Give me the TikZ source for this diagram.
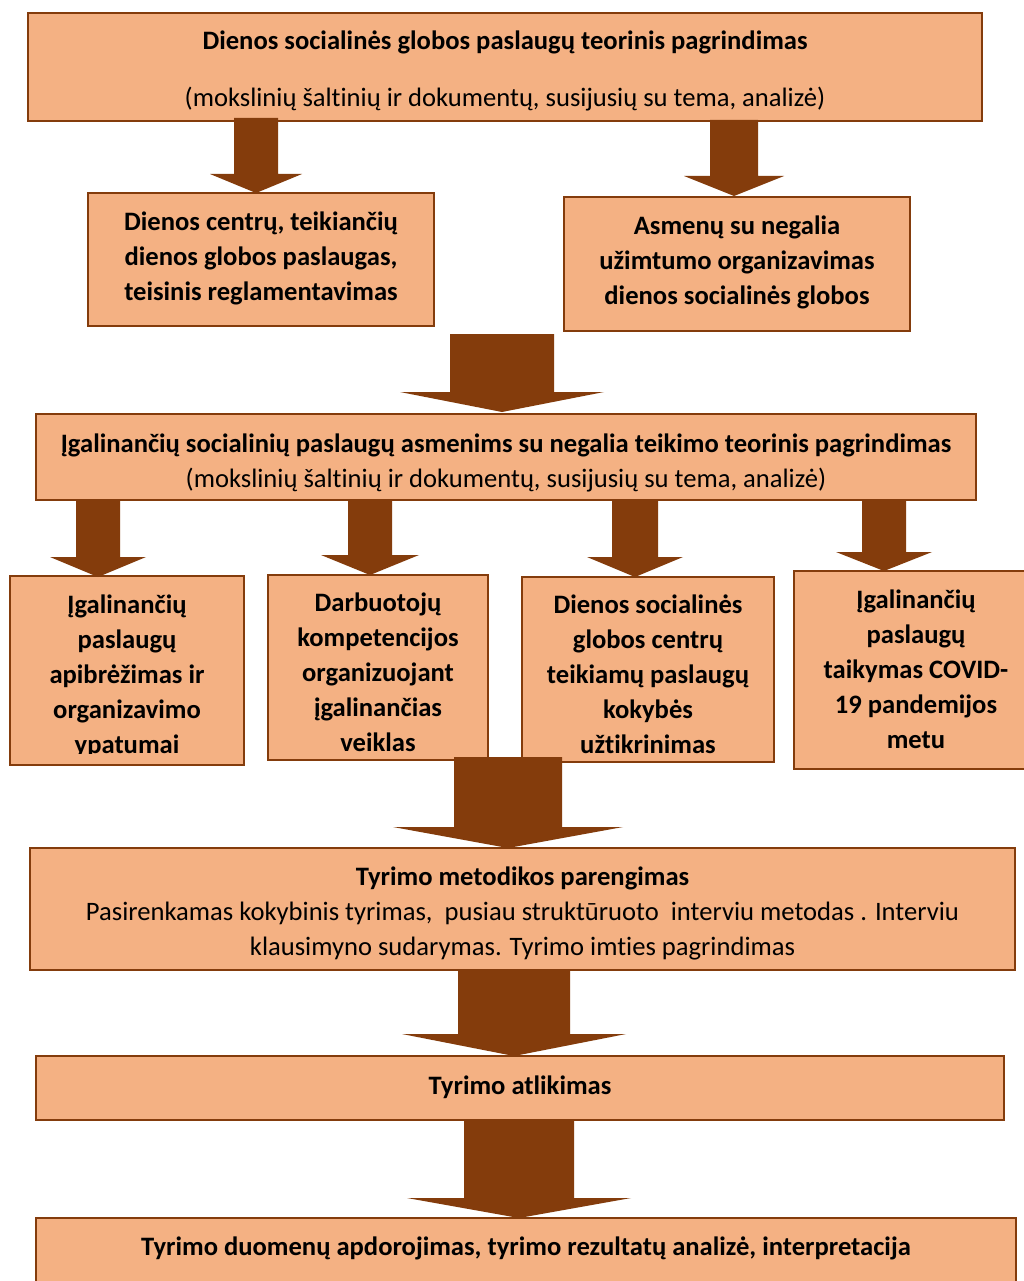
\documentclass[tikz,border=0pt]{standalone}
\usepackage{fontspec}
\setmainfont[RawFeature={-liga;-clig;-calt}]{Carlito}
\definecolor{boxfill}{HTML}{F4B183}
\definecolor{arrowc}{HTML}{843C0C}
\tikzset{
  box/.style={draw=arrowc, fill=boxfill, line width=2pt, inner sep=0pt},
  txt/.style={inner sep=0pt, align=center, font=\fontsize{26.6}{35}\selectfont},
  btxt/.style={txt, font=\fontsize{26.6}{35}\selectfont\bfseries},
  blk/.style={fill=arrowc}
}
% x, shaft half width, top y, head base y, head half width, tip y
\newcommand\blkarrow[6]{\fill[blk] (#1-#2,#3) -- (#1+#2,#3) -- (#1+#2,#4) -- (#1+#5,#4) -- (#1,#6) -- (#1-#5,#4) -- (#1-#2,#4) -- cycle;}
\begin{document}
\begin{tikzpicture}[x=1pt,y=-1pt]
\clip (0,0) rectangle (1024,1281);
\fill[white] (0,0) rectangle (1024,1281);

% boxes
\node[box, minimum width=954pt, minimum height=108pt] (top) at (505,67) {};
\node[box, minimum width=346pt, minimum height=133pt] (a) at (261,259.5) {};
\node[box, minimum width=346pt, minimum height=134pt] (b) at (737,264) {};
\node[box, minimum width=940pt, minimum height=86pt] (c) at (506,457) {};
\node[box, minimum width=234pt, minimum height=189pt] (d1) at (127,670.5) {};
\node[box, minimum width=220pt, minimum height=185pt] (d2) at (378,667.5) {};
\node[box, minimum width=252pt, minimum height=185pt] (d3) at (648,669.5) {};
\node[box, minimum width=244pt, minimum height=198pt] (d4) at (916,670) {};
\node[box, minimum width=985pt, minimum height=122pt] (e) at (522.5,909) {};
\node[box, minimum width=968pt, minimum height=64pt] (f) at (520,1088) {};
\node[box, minimum width=980pt, minimum height=84pt] (g) at (526,1260) {};

% texts
\node[txt] (topt) at (505,71)
  {\textbf{Dienos socialinės globos paslaugų teorinis pagrindimas}\\[22pt](mokslinių šaltinių ir dokumentų, susijusių su tema, analizė)};
\node[btxt] (at) at (261,258)
  {Dienos centrų, teikiančių\\dienos globos paslaugas,\\teisinis reglamentavimas};
\node[btxt] (bt) at (737,262.5)
  {Asmenų su negalia\\užimtumo organizavimas\\dienos socialinės globos};
\node[txt] (ct) at (506,463)
  {\textbf{Įgalinančių socialinių paslaugų asmenims su negalia teikimo teorinis pagrindimas}\\(mokslinių šaltinių ir dokumentų, susijusių su tema, analizė)};
\begin{scope}
  \clip (10,577) rectangle (244,753);
  \node[btxt] (d1t) at (127,676.5) {Įgalinančių\\paslaugų\\apibrėžimas ir\\organizavimo\\ypatumai};
\end{scope}
\node[btxt] (d2t) at (378,672.5)
  {Darbuotojų\\kompetencijos\\organizuojant\\įgalinančias\\veiklas};
\node[btxt] (d3t) at (648,674.5)
  {Dienos socialinės\\globos centrų\\teikiamų paslaugų\\kokybės\\užtikrinimas};
\node[btxt] (d4t) at (916,669.5)
  {Įgalinančių\\paslaugų\\taikymas COVID-\\19 pandemijos\\metu};
\node[txt] (et) at (522.5,913.5)
  {\textbf{Tyrimo metodikos parengimas}\\Pasirenkamas kokybinis tyrimas,\ \ pusiau struktūruoto\ \ interviu metodas . Interviu\\klausimyno sudarymas. Tyrimo imties pagrindimas};
\node[btxt] (ft) at (520,1087) {Tyrimo atlikimas};
\node[btxt] (gt) at (526,1248.5)
  {Tyrimo duomenų apdorojimas, tyrimo rezultatų analizė, interpretacija};

% block arrows (connectors)
\blkarrow{256}{22}{118}{174}{46}{193}
\blkarrow{734}{24}{120}{176}{50}{196}
\blkarrow{502}{52}{334}{392}{102}{412}
\blkarrow{98}{22}{500}{557}{48}{577}
\blkarrow{370}{22}{500}{555}{49}{575}
\blkarrow{635}{23}{500}{557}{48}{577}
\blkarrow{884}{22}{500}{552}{48}{571}
\blkarrow{508}{54}{757}{827}{115}{848}
\blkarrow{514}{56}{970}{1034}{112}{1056}
\blkarrow{519}{55}{1120}{1198}{112}{1218}
\end{tikzpicture}
\end{document}
